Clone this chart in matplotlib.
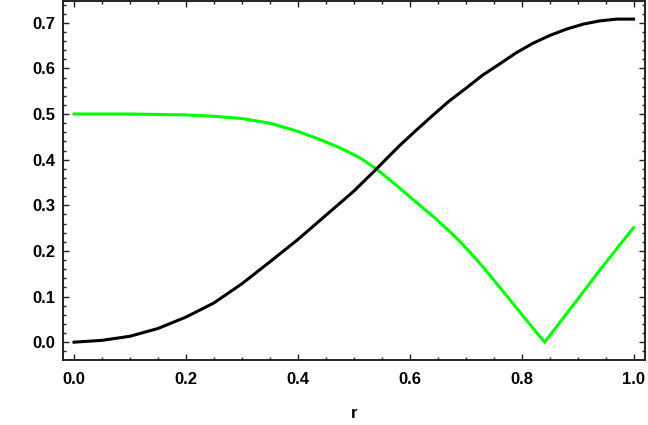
import matplotlib
matplotlib.use("Agg")
import matplotlib.pyplot as plt
from matplotlib.ticker import MultipleLocator

# values
r_black = [0.0, 0.05, 0.1, 0.15, 0.2, 0.25, 0.3, 0.35, 0.4, 0.45, 0.5, 0.54,
           0.56, 0.582, 0.612, 0.642, 0.67, 0.701, 0.73, 0.761, 0.79, 0.82,
           0.85, 0.88, 0.91, 0.939, 0.97, 1.0]
v_black = [0.0, 0.004, 0.013, 0.030, 0.055, 0.086, 0.128, 0.176, 0.225, 0.278, 0.331, 0.379,
           0.404, 0.431, 0.465, 0.498, 0.528, 0.557, 0.585, 0.610, 0.634, 0.655,
           0.672, 0.686, 0.697, 0.704, 0.708, 0.708]

r_green = [0.0, 0.1, 0.15, 0.2, 0.25, 0.3, 0.35, 0.4, 0.44, 0.475, 0.511, 0.540,
           0.57, 0.594, 0.62, 0.646, 0.671, 0.69, 0.713, 0.73, 0.755, 0.775, 0.796,
           0.82, 0.841, 0.86, 0.880, 0.91, 0.939, 0.97, 1.0]
v_green = [0.5, 0.5, 0.499, 0.498, 0.495, 0.490, 0.480, 0.462, 0.444, 0.426, 0.404, 0.380,
           0.350, 0.325, 0.298, 0.271, 0.243, 0.220, 0.190, 0.166, 0.129, 0.099, 0.067,
           0.031, 0.0, 0.030, 0.062, 0.110, 0.157, 0.205, 0.251]

plt.rcParams["font.family"] = ["Liberation Sans", "DejaVu Sans"]
plt.rcParams["font.weight"] = "bold"

fig = plt.figure(figsize=(6.48, 4.25), dpi=100)
ax = fig.add_axes([0.097, 0.153, 0.898, 0.845])

ax.plot(r_green, v_green, color="#00ff00", lw=2.2, solid_joinstyle="miter")
ax.plot(r_black, v_black, color="black", lw=2.2)

ax.set_xlim(-0.02, 1.02)
ax.set_ylim(-0.039, 0.748)
ax.xaxis.set_major_locator(MultipleLocator(0.2))
ax.xaxis.set_minor_locator(MultipleLocator(0.05))
ax.yaxis.set_major_locator(MultipleLocator(0.1))
ax.yaxis.set_minor_locator(MultipleLocator(0.02))
ax.xaxis.set_major_formatter(lambda x, p: f"{x:.1f}")
ax.yaxis.set_major_formatter(lambda y, p: f"{y:.1f}")

ax.tick_params(which="both", direction="in", top=True, right=True, width=1.0, color="#222222")
ax.tick_params(which="major", length=4.5)
ax.tick_params(which="minor", length=2.2)
ax.tick_params(axis="x", which="major", pad=8.5, labelsize=12)
ax.tick_params(axis="y", which="major", pad=5.5, labelsize=12)
for lab in ax.get_xticklabels() + ax.get_yticklabels():
    lab.set_fontweight("bold")

for s in ax.spines.values():
    s.set_linewidth(1.4)
    s.set_color("#222222")

ax.set_xlabel("r", fontsize=12, fontweight="bold", labelpad=14)

fig.savefig("out.png", dpi=100)
